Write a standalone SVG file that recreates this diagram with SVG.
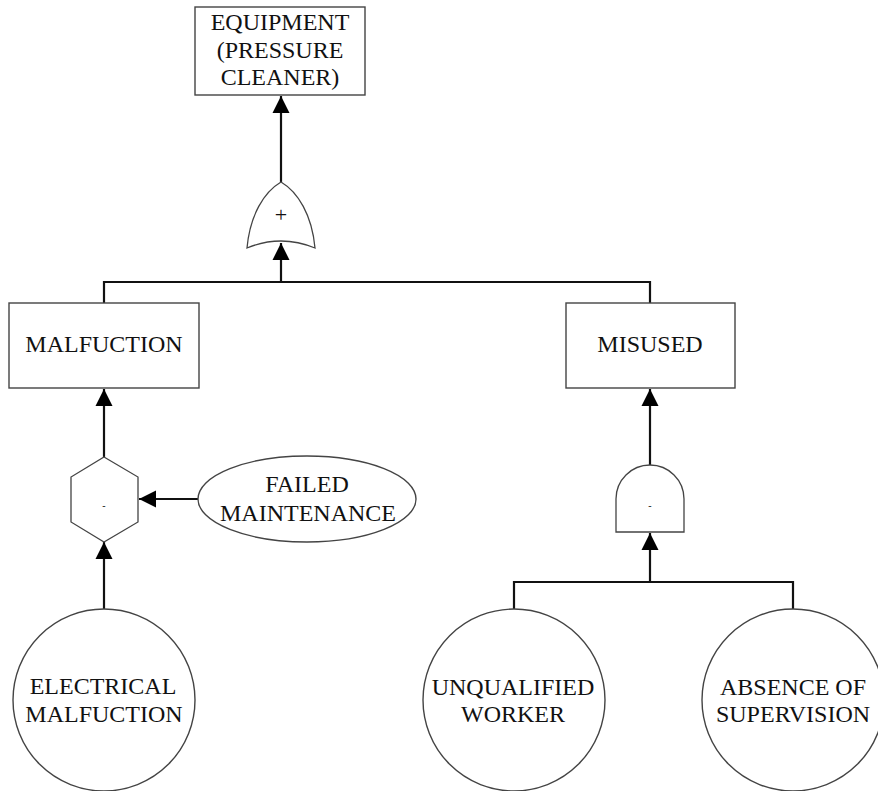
<svg xmlns="http://www.w3.org/2000/svg" width="878" height="791" viewBox="0 0 878 791">
<style>
.node{fill:#fff;stroke:#444;stroke-width:1.4}
.gate{fill:#fff;stroke:#444;stroke-width:1.3}
.conn{fill:none;stroke:#111;stroke-width:2.2}
text{font-family:"Liberation Serif","Times New Roman",serif;font-size:24px;fill:#111;text-anchor:middle}
.sym{font-size:22px}
.dot{font-size:10px}
</style>
<defs>
<marker id="ah" markerUnits="userSpaceOnUse" markerWidth="18" markerHeight="18" viewBox="0 0 18 18" refX="17" refY="9" orient="auto">
<path d="M0,0.5 L17,9 L0,17.5 Z" fill="#000"/>
</marker>
</defs>
<rect width="878" height="791" fill="#fff"/>
<g id="connectors">
<line class="conn" x1="281" y1="182" x2="281" y2="96" marker-end="url(#ah)"/>
<polyline class="conn" points="104,303 104,282 650,282 650,303"/>
<line class="conn" x1="281" y1="282" x2="281" y2="243" marker-end="url(#ah)"/>
<line class="conn" x1="104" y1="457" x2="104" y2="389" marker-end="url(#ah)"/>
<line class="conn" x1="198" y1="499" x2="139" y2="499" marker-end="url(#ah)"/>
<line class="conn" x1="104" y1="609" x2="104" y2="542" marker-end="url(#ah)"/>
<line class="conn" x1="650" y1="465" x2="650" y2="389" marker-end="url(#ah)"/>
<polyline class="conn" points="514,609 514,582 793,582 793,609"/>
<line class="conn" x1="650" y1="582" x2="650" y2="533" marker-end="url(#ah)"/>
</g>
<g id="equipment">
<rect class="node" x="195" y="7" width="170" height="88"/>
<text x="280" y="30">EQUIPMENT</text>
<text x="280" y="58">(PRESSURE</text>
<text x="280" y="85">CLEANER)</text>
</g>
<g id="or-gate">
<path class="gate" d="M247,248 C250,215 264,192 281,182 C298,192 312,215 315,248 Q281,234 247,248 Z"/>
<text class="sym" x="281" y="222">+</text>
</g>
<g id="malfuction">
<rect class="node" x="9" y="303" width="190" height="85"/>
<text x="104" y="352">MALFUCTION</text>
</g>
<g id="misused">
<rect class="node" x="566" y="303" width="169" height="85"/>
<text x="650" y="352">MISUSED</text>
</g>
<g id="inhibit-gate">
<polygon class="gate" points="104,457 138,477 138,522 104,542 71,522 71,477"/>
<text class="dot" x="104" y="509">-</text>
</g>
<g id="failed-maintenance">
<ellipse class="node" cx="307" cy="499" rx="109" ry="43"/>
<text x="307" y="492">FAILED</text>
<text x="308" y="521">MAINTENANCE</text>
</g>
<g id="and-gate">
<path class="gate" d="M616,532 L616,499 A34,34 0 0 1 684,499 L684,532 Z"/>
<text class="dot" x="650" y="509">-</text>
</g>
<g id="electrical-malfuction">
<circle class="node" cx="104" cy="700" r="91"/>
<text x="103" y="694">ELECTRICAL</text>
<text x="104" y="722">MALFUCTION</text>
</g>
<g id="unqualified-worker">
<circle class="node" cx="514" cy="700" r="91"/>
<text x="513" y="695">UNQUALIFIED</text>
<text x="513" y="722">WORKER</text>
</g>
<g id="absence-of-supervision">
<circle class="node" cx="793" cy="700" r="91"/>
<text x="793" y="695">ABSENCE OF</text>
<text x="793" y="722">SUPERVISION</text>
</g>
</svg>
